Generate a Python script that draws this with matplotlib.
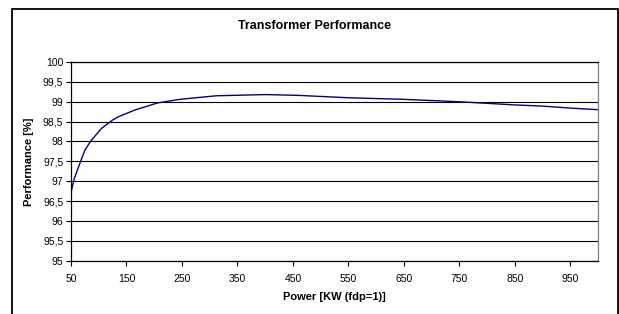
import matplotlib
matplotlib.use("Agg")
import matplotlib.pyplot as plt
from matplotlib.patches import Rectangle

plt.rcParams['font.family'] = ['Liberation Sans', 'DejaVu Sans']

power_kw = [50, 56, 67, 75, 85, 105, 125, 135, 165, 190, 206, 246, 312, 400, 460,
            550, 600, 650, 700, 750, 800, 850, 900, 950, 1000]
performance = [96.72, 97.07, 97.49, 97.78, 98.00, 98.33, 98.54, 98.62, 98.79, 98.90,
               98.97, 99.06, 99.15, 99.18, 99.16, 99.10, 99.08, 99.06, 99.03, 99.00,
               98.96, 98.92, 98.89, 98.84, 98.80]

x_ticks = [50, 150, 250, 350, 450, 550, 650, 750, 850, 950]
y_ticks = [95, 95.5, 96, 96.5, 97, 97.5, 98, 98.5, 99, 99.5, 100]
y_tick_labels = ["95", "95,5", "96", "96,5", "97", "97,5", "98", "98,5", "99", "99,5", "100"]

W, H = 619, 314
fig = plt.figure(figsize=(W / 100, H / 100), dpi=100)
fig.patch.set_facecolor('white')

# outer chart frame
fig.patches.append(Rectangle((12 / W, -0.1), (617.5 - 12) / W, (H - 9) / H + 0.1,
                             transform=fig.transFigure, fill=False,
                             edgecolor='black', linewidth=1.3))

ax = fig.add_axes([71 / W, (H - 260.7) / H, 527 / W, (260.7 - 62) / H])
ax.plot(power_kw, performance, color='#000080', linewidth=1.0)

ax.set_xlim(50, 1000)
ax.set_ylim(95, 100)
ax.set_xticks(x_ticks)
ax.set_xticklabels([str(v) for v in x_ticks])
ax.set_yticks(y_ticks)
ax.set_yticklabels(y_tick_labels)
ax.tick_params(axis='both', direction='out', length=3.5, width=0.8, labelsize=7.5,
               pad=2, colors='black')
ax.tick_params(axis='x', pad=6)
ax.grid(axis='y', color='black', linewidth=0.8)
ax.set_axisbelow(True)

for side in ['left', 'bottom', 'top']:
    ax.spines[side].set_color('black')
    ax.spines[side].set_linewidth(0.9)
ax.spines['right'].set_color('#808080')
ax.spines['right'].set_linewidth(0.9)

fig.text(315 / W, 1 - 26 / H, "Transformer Performance", ha='center', va='center',
         fontsize=9, fontweight='bold')
fig.text(334 / W, 1 - 297 / H, "Power [KW (fdp=1)]", ha='center', va='center',
         fontsize=8, fontweight='bold')
fig.text(28.5 / W, 1 - 161.5 / H, "Performance [%]", ha='center', va='center',
         fontsize=8, fontweight='bold', rotation=90)

fig.savefig("out.png", dpi=100)
